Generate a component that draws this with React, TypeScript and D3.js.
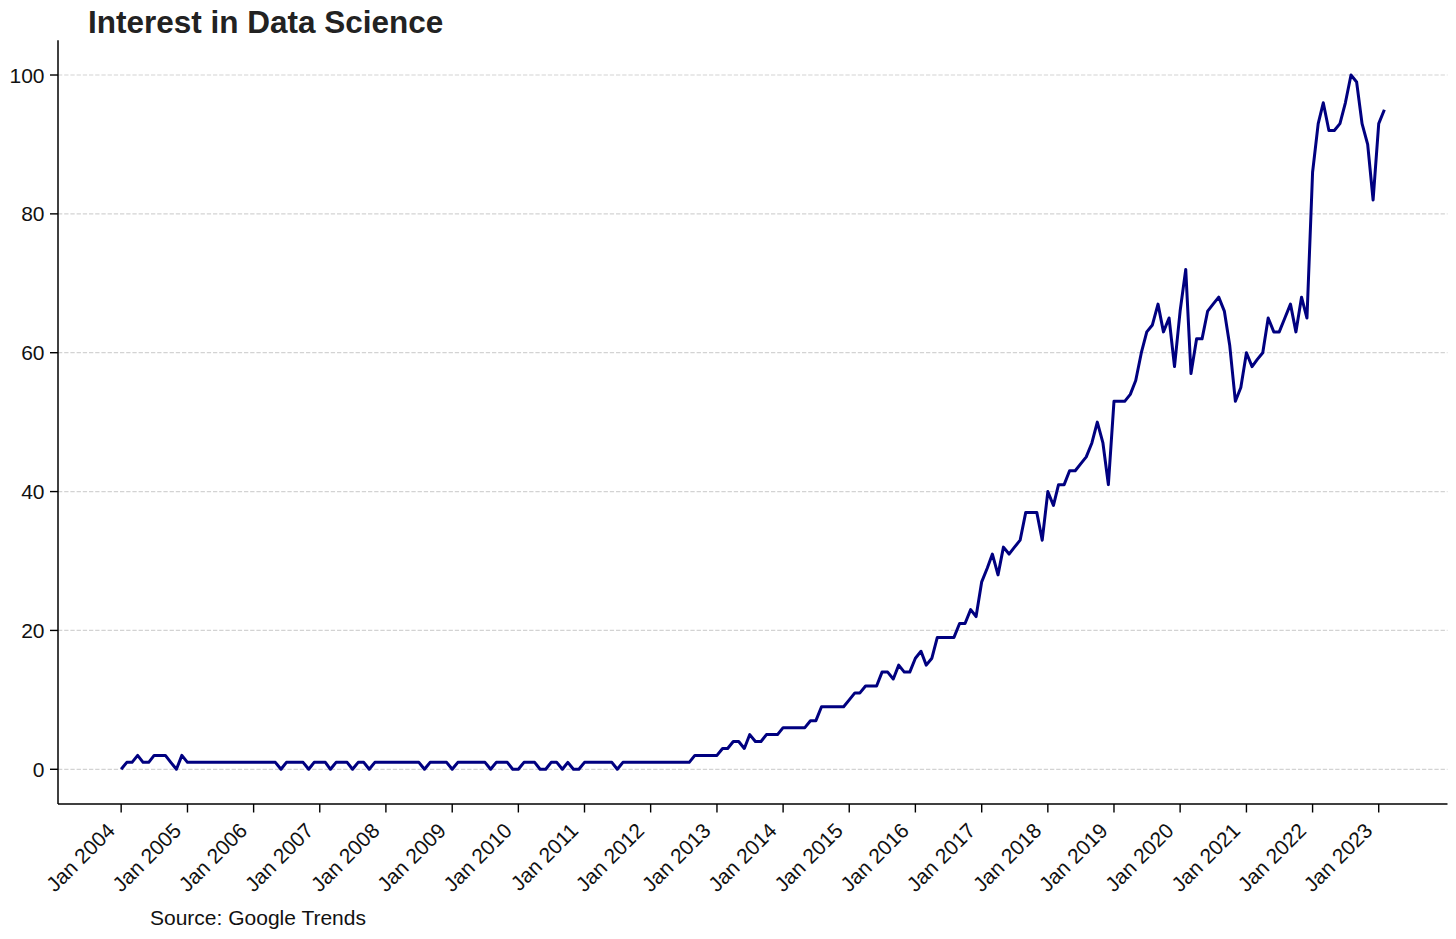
import React from "react";
import * as d3 from "d3";

// Monthly Google Trends interest, Jan 2004 .. Feb 2023
const startYear = 2004;
const values: number[] = [
  // 2004
  0, 1, 1, 2, 1, 1, 2, 2, 2, 1, 0, 2,
  // 2005
  1, 1, 1, 1, 1, 1, 1, 1, 1, 1, 1, 1,
  // 2006
  1, 1, 1, 1, 1, 0, 1, 1, 1, 1, 0, 1,
  // 2007
  1, 1, 0, 1, 1, 1, 0, 1, 1, 0, 1, 1,
  // 2008
  1, 1, 1, 1, 1, 1, 1, 0, 1, 1, 1, 1,
  // 2009
  0, 1, 1, 1, 1, 1, 1, 0, 1, 1, 1, 0,
  // 2010
  0, 1, 1, 1, 0, 0, 1, 1, 0, 1, 0, 0,
  // 2011
  1, 1, 1, 1, 1, 1, 0, 1, 1, 1, 1, 1,
  // 2012
  1, 1, 1, 1, 1, 1, 1, 1, 2, 2, 2, 2,
  // 2013
  2, 3, 3, 4, 4, 3, 5, 4, 4, 5, 5, 5,
  // 2014
  6, 6, 6, 6, 6, 7, 7, 9, 9, 9, 9, 9,
  // 2015
  10, 11, 11, 12, 12, 12, 14, 14, 13, 15, 14, 14,
  // 2016
  16, 17, 15, 16, 19, 19, 19, 19, 21, 21, 23, 22,
  // 2017
  27, 29, 31, 28, 32, 31, 32, 33, 37, 37, 37, 33,
  // 2018
  40, 38, 41, 41, 43, 43, 44, 45, 47, 50, 47, 41,
  // 2019
  53, 53, 53, 54, 56, 60, 63, 64, 67, 63, 65, 58,
  // 2020
  66, 72, 57, 62, 62, 66, 67, 68, 66, 61, 53, 55,
  // 2021
  60, 58, 59, 60, 65, 63, 63, 65, 67, 63, 68, 65,
  // 2022
  86, 93, 96, 92, 92, 93, 96, 100, 99, 93, 90, 82,
  // 2023
  93, 95,
];

const yTicks = [0, 20, 40, 60, 80, 100];
const tickYears = d3.range(2004, 2024);
const title = "Interest in Data Science";
const source = "Source: Google Trends";

const W = 1456;
const H = 939;
const left = 58;
const right = 1447.5;
const top = 40.3;
const bottom = 804;
const font = "'Liberation Sans', Arial, Helvetica, sans-serif";

export default function App() {
  const data = values.map((v, i) => ({ date: new Date(startYear, i, 1), v }));
  const d0 = data[0].date.getTime();
  const d1 = data[data.length - 1].date.getTime();
  const mx = (d1 - d0) * 0.05;
  const x = d3
    .scaleTime()
    .domain([new Date(d0 - mx), new Date(d1 + mx)])
    .range([left, right]);
  const y = d3.scaleLinear().domain([-5, 105]).range([bottom, top]);
  const line = d3
    .line<{ date: Date; v: number }>()
    .x((d) => x(d.date))
    .y((d) => y(d.v));

  return (
    <div style={{ position: "absolute", left: 0, top: 0 }}>
      <svg width={W} height={H} style={{ display: "block", background: "#fff" }}>
        {/* grid */}
        {yTicks.map((t) => (
          <line
            key={"g" + t}
            x1={left}
            x2={right}
            y1={y(t)}
            y2={y(t)}
            stroke="#d3d3d3"
            strokeWidth={1.2}
            strokeDasharray="4.3,1.9"
          />
        ))}
        {/* y axis */}
        <line x1={left} x2={left} y1={top} y2={bottom} stroke="#000" strokeWidth={1.5} />
        {yTicks.map((t) => (
          <g key={"y" + t}>
            <line x1={left - 8} x2={left} y1={y(t)} y2={y(t)} stroke="#000" strokeWidth={1.4} />
            <text
              x={left - 13.5}
              y={y(t)}
              dy="0.36em"
              textAnchor="end"
              fontFamily={font}
              fontSize={21}
              fill="#111"
            >
              {t}
            </text>
          </g>
        ))}
        {/* x axis */}
        <line x1={left} x2={right} y1={bottom} y2={bottom} stroke="#000" strokeWidth={1.5} />
        {tickYears.map((yr) => {
          const tx = x(new Date(yr, 0, 1));
          return (
            <g key={"x" + yr}>
              <line x1={tx} x2={tx} y1={bottom} y2={bottom + 8.5} stroke="#000" strokeWidth={1.4} />
              <text
                transform={`translate(${tx - 5},${bottom + 28}) rotate(-45)`}
                textAnchor="end"
                fontFamily={font}
                fontSize={21}
                fill="#111"
              >
                {`Jan ${yr}`}
              </text>
            </g>
          );
        })}
        {/* data line */}
        <path
          d={line(data) || ""}
          fill="none"
          stroke="#000080"
          strokeWidth={3}
          strokeLinejoin="round"
          strokeLinecap="butt"
        />
        {/* title */}
        <text x={88} y={33} fontFamily={font} fontSize={31.5} fontWeight="bold" fill="#222">
          {title}
        </text>
        {/* source */}
        <text x={150} y={925} fontFamily={font} fontSize={21} fill="#111">
          {source}
        </text>
      </svg>
    </div>
  );
}
